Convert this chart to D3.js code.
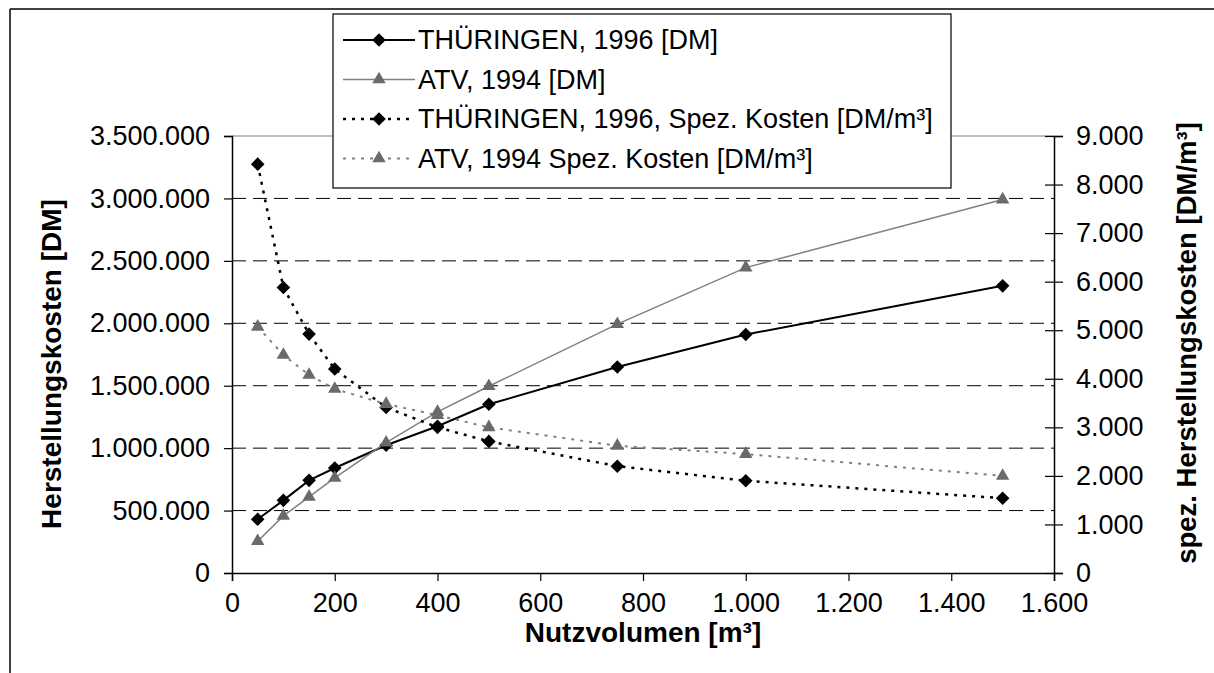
<!DOCTYPE html>
<html><head><meta charset="utf-8">
<script src="https://cdn.jsdelivr.net/npm/d3@7"></script>
<style>
html,body{margin:0;padding:0;background:#fff;}
svg{display:block;}
text{font-family:"Liberation Sans",Arial,sans-serif;fill:#000;}
</style></head>
<body><svg id="chart" width="1214" height="673"></svg>
<script>
// ---- data ----
const volumes = [50, 100, 150, 200, 300, 400, 500, 750, 1000, 1500];
const thueringenDM = [430000, 582000, 742000, 841000, 1023000, 1175000, 1351000, 1650000, 1910000, 2300000];
const atvDM = [255000, 457000, 609000, 761000, 1044000, 1290000, 1496000, 1993000, 2446000, 2991000];
const thueringenSpez = [8420, 5880, 4920, 4200, 3410, 3000, 2710, 2200, 1900, 1540];
const atvSpez = [5070, 4490, 4080, 3790, 3480, 3250, 3000, 2620, 2450, 2000];
const xTicks = [0, 200, 400, 600, 800, 1000, 1200, 1400, 1600];
const leftTicks = [0, 500000, 1000000, 1500000, 2000000, 2500000, 3000000, 3500000];
const rightTicks = [0, 1000, 2000, 3000, 4000, 5000, 6000, 7000, 8000, 9000];
const seriesNames = ["THÜRINGEN, 1996 [DM]", "ATV, 1994 [DM]", "THÜRINGEN, 1996, Spez. Kosten [DM/m³]", "ATV, 1994 Spez. Kosten [DM/m³]"];
const xTitle = "Nutzvolumen [m³]";
const leftTitle = "Herstellungskosten [DM]";
const rightTitle = "spez. Herstellungskosten [DM/m³]";

// ---- layout ----
const P = {l: 232, r: 1054, t: 136, b: 573};
const FS = 27;
const FT = 28;
const svg = d3.select("#chart");
const loc = d3.formatLocale({decimal: ",", thousands: ".", grouping: [3], currency: ["", " DM"]});
const fmt = loc.format(",d");

const x = d3.scaleLinear().domain([0, 1600]).range([P.l, P.r]);
const yL = d3.scaleLinear().domain([0, 3500000]).range([P.b, P.t]);
const yR = d3.scaleLinear().domain([0, 9000]).range([P.b, P.t]);

// outer border
svg.append("line").attr("x1", 10).attr("x2", 1214).attr("y1", 9).attr("y2", 9).attr("stroke", "#000").attr("stroke-width", 1.5);
svg.append("line").attr("x1", 10).attr("x2", 10).attr("y1", 9).attr("y2", 673).attr("stroke", "#000").attr("stroke-width", 1.5);

// plot top border
svg.append("line").attr("x1", P.l).attr("x2", P.r).attr("y1", P.t).attr("y2", P.t).attr("stroke", "#808080").attr("stroke-width", 1.2);

// gridlines
svg.append("g").selectAll("line").data(leftTicks.filter(d => d > 0 && d < 3500000)).join("line")
  .attr("x1", P.l).attr("x2", P.r).attr("y1", d => yL(d)).attr("y2", d => yL(d))
  .attr("stroke", "#000").attr("stroke-width", 1).attr("stroke-dasharray", "14,7");

// axes
const axL = svg.append("g").attr("transform", `translate(${P.l},0)`)
  .call(d3.axisLeft(yL).tickValues(leftTicks).tickFormat(fmt).tickSize(8).tickPadding(14));
const axR = svg.append("g").attr("transform", `translate(${P.r},0)`)
  .call(d3.axisRight(yR).tickValues(rightTicks).tickFormat(fmt).tickSize(9).tickPadding(14));
const axX = svg.append("g").attr("transform", `translate(0,${P.b})`)
  .call(d3.axisBottom(x).tickValues(xTicks).tickFormat(fmt).tickSize(8).tickPadding(12));
[axL, axR, axX].forEach(a => {
  a.select(".domain").attr("stroke", "#000").attr("stroke-width", 1.5);
  a.selectAll(".tick line").attr("stroke", "#000").attr("stroke-width", 1.2);
  a.selectAll("text").attr("font-size", FS).attr("font-family", '"Liberation Sans",Arial,sans-serif').attr("fill", "#000");
});
axR.selectAll(".tick line").attr("x1", -9);
axR.selectAll(".tick text").attr("x", 22);

// titles
svg.append("text").attr("x", x(800)).attr("y", 642).attr("text-anchor", "middle")
  .attr("font-size", FT).attr("font-weight", "bold").text(xTitle);
svg.append("text").attr("transform", `translate(61,364) rotate(-90)`).attr("text-anchor", "middle")
  .attr("font-size", FT).attr("font-weight", "bold").text(leftTitle);
svg.append("text").attr("transform", `translate(1196,343) rotate(-90)`).attr("text-anchor", "middle")
  .attr("font-size", 27.5).attr("font-weight", "bold").text(rightTitle);

// series
const series = [
  {vals: thueringenDM, y: yL, color: "#000", width: 2, dash: null, marker: "diamond", mcolor: "#000"},
  {vals: atvDM, y: yL, color: "#808080", width: 1.5, dash: null, marker: "triangle", mcolor: "#6a6a6a"},
  {vals: thueringenSpez, y: yR, color: "#000", width: 2.5, dash: "3,6", marker: "diamond", mcolor: "#000"},
  {vals: atvSpez, y: yR, color: "#808080", width: 2, dash: "3,6", marker: "triangle", mcolor: "#6a6a6a"}
];
const diamondPath = "M0,-6.8L6.8,0L0,6.8L-6.8,0Z";
const symT = d3.symbol().type(d3.symbolTriangle).size(78);

series.forEach(s => {
  const pts = volumes.map((v, i) => [x(v), s.y(s.vals[i])]);
  svg.append("path").attr("d", d3.line()(pts)).attr("fill", "none")
    .attr("stroke", s.color).attr("stroke-width", s.width).attr("stroke-dasharray", s.dash);
});
series.forEach(s => {
  svg.append("g").selectAll("path").data(volumes).join("path")
    .attr("transform", (v, i) => `translate(${x(v)},${s.y(s.vals[i])})`)
    .attr("d", s.marker === "diamond" ? diamondPath : symT).attr("fill", s.mcolor);
});

// legend
const L = {x: 333, y: 14, w: 618, h: 174};
svg.append("rect").attr("x", L.x).attr("y", L.y).attr("width", L.w).attr("height", L.h)
  .attr("fill", "#fff").attr("stroke", "#000").attr("stroke-width", 1.2);
const rowY = [40, 79.5, 119, 158.5];
series.forEach((s, i) => {
  const g = svg.append("g").attr("transform", `translate(0,${rowY[i]})`);
  g.append("line").attr("x1", 343).attr("x2", 415).attr("y1", 0).attr("y2", 0)
    .attr("stroke", s.color).attr("stroke-width", s.width).attr("stroke-dasharray", s.dash);
  g.append("path").attr("transform", "translate(379,0)").attr("d", s.marker === "diamond" ? diamondPath : symT).attr("fill", s.mcolor);
  g.append("text").attr("x", 418).attr("y", 0).attr("dy", "0.35em").attr("font-size", FS).text(seriesNames[i]);
});
</script></body></html>
